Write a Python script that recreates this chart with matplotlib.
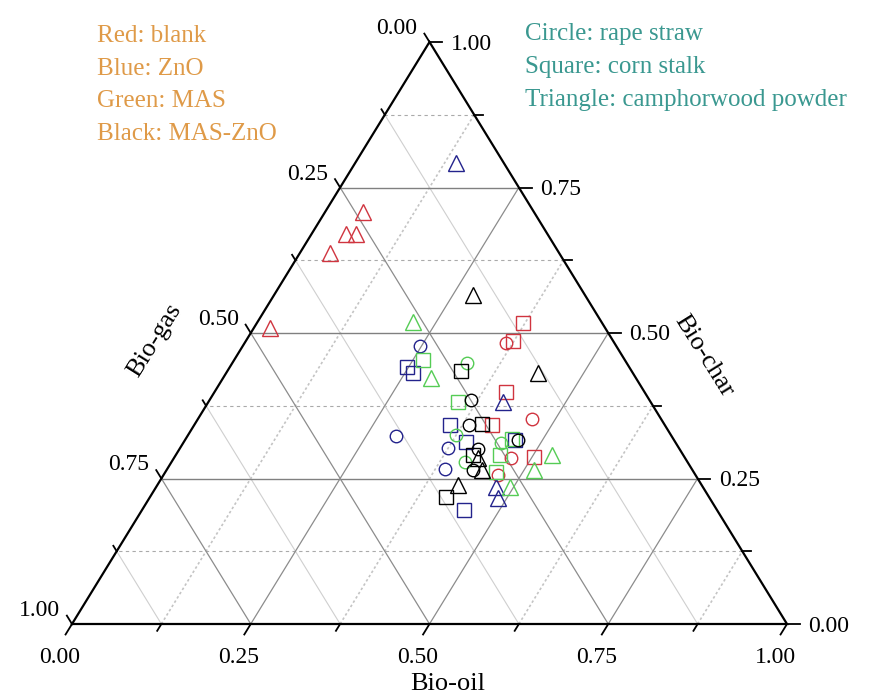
import numpy as np
import matplotlib
matplotlib.use("Agg")
import matplotlib.pyplot as plt

# ternary data, each point is (bio-oil, bio-gas, bio-char)
red_circle = [(0.365, 0.152, 0.483), (0.467, 0.181, 0.352), (0.471, 0.244, 0.285), (0.468, 0.276, 0.256)]
red_square = [(0.372, 0.111, 0.517), (0.374, 0.140, 0.486), (0.408, 0.193, 0.399), (0.416, 0.242, 0.342),
              (0.502, 0.211, 0.287)]
red_triangle = [(0.053, 0.239, 0.708), (0.048, 0.282, 0.670), (0.062, 0.268, 0.670), (0.042, 0.321, 0.637),
                (0.023, 0.468, 0.509)]

blue_circle = [(0.248, 0.274, 0.478), (0.291, 0.386, 0.323), (0.375, 0.323, 0.302), (0.389, 0.345, 0.266)]
blue_square = [(0.248, 0.310, 0.442), (0.262, 0.307, 0.431), (0.358, 0.300, 0.342), (0.395, 0.292, 0.313),
               (0.462, 0.222, 0.316), (0.450, 0.354, 0.196)]
blue_triangle = [(0.141, 0.067, 0.792), (0.412, 0.207, 0.381), (0.476, 0.289, 0.235), (0.488, 0.296, 0.216)]

green_circle = [(0.328, 0.224, 0.448), (0.374, 0.301, 0.325), (0.444, 0.245, 0.311), (0.411, 0.311, 0.278)]
green_square = [(0.264, 0.282, 0.454), (0.350, 0.269, 0.381), (0.456, 0.226, 0.318), (0.454, 0.256, 0.290),
                (0.463, 0.276, 0.261)]
green_triangle = [(0.218, 0.263, 0.519), (0.290, 0.287, 0.423), (0.526, 0.184, 0.290), (0.513, 0.222, 0.265),
                  (0.495, 0.270, 0.235)]

black_circle = [(0.365, 0.250, 0.385), (0.384, 0.274, 0.342), (0.418, 0.281, 0.301), (0.429, 0.306, 0.265),
                (0.466, 0.218, 0.316)]
black_square = [(0.326, 0.239, 0.435), (0.401, 0.255, 0.344), (0.416, 0.294, 0.290), (0.414, 0.368, 0.218)]
black_triangle = [(0.278, 0.157, 0.565), (0.436, 0.133, 0.431), (0.425, 0.290, 0.285), (0.441, 0.294, 0.265),
                  (0.421, 0.340, 0.239)]

tick_values = [0.0, 0.25, 0.5, 0.75, 1.0]
tick_labels = ["0.00", "0.25", "0.50", "0.75", "1.00"]
minor_values = [0.125, 0.375, 0.625, 0.875]

legend_colors = ["Red: blank", "Blue: ZnO", "Green: MAS", "Black: MAS-ZnO"]
legend_shapes = ["Circle: rape straw", "Square: corn stalk", "Triangle: camphorwood powder"]

plt.rcParams['font.family'] = ['Liberation Serif', 'DejaVu Serif']


def to_xy(oil, char):
    # bottom-left = gas, bottom-right = oil, top = char
    return oil + 0.5 * char, char


W, H = 883, 696
fig = plt.figure(figsize=(W / 100, H / 100), dpi=100)
ax = fig.add_axes([0, 0, 1, 1])
ax.set_xlim(-72 / 715, 811 / 715)
ax.set_ylim(-72 / 582, 624 / 582)
ax.axis('off')

# grid
for v in minor_values:
    # constant char (horizontal) - dashed
    x0, y0 = to_xy(1 - v, v)
    x1, y1 = to_xy(0, v)
    ax.plot([x0, x1], [y0, y1], color='#aaaaaa', lw=0.8, ls=(0, (3, 3)), zorder=1)
    # constant oil - dotted
    x0, y0 = to_xy(v, 0)
    x1, y1 = to_xy(v, 1 - v)
    ax.plot([x0, x1], [y0, y1], color='#c4c4c4', lw=1.2, ls=(0, (1.5, 1.5)), zorder=1)
    # constant gas - thin solid
    x0, y0 = to_xy(1 - v, 0)
    x1, y1 = to_xy(0, 1 - v)
    ax.plot([x0, x1], [y0, y1], color='#cfcfcf', lw=0.8, zorder=1)

for v in tick_values[1:-1]:
    x0, y0 = to_xy(1 - v, v)
    x1, y1 = to_xy(0, v)
    ax.plot([x0, x1], [y0, y1], color='#808080', lw=1.0, zorder=1)
    x0, y0 = to_xy(v, 0)
    x1, y1 = to_xy(v, 1 - v)
    ax.plot([x0, x1], [y0, y1], color='#8c8c8c', lw=0.9, zorder=1)
    x0, y0 = to_xy(1 - v, 0)
    x1, y1 = to_xy(0, 1 - v)
    ax.plot([x0, x1], [y0, y1], color='#8c8c8c', lw=0.9, zorder=1)

# frame
ax.plot([0, 1, 0.5, 0], [0, 0, 1, 0], color='black', lw=1.6, zorder=3, solid_joinstyle='miter')

# ticks
L = 0.018
for v in sorted(tick_values + minor_values):
    ln = L if v in tick_values else L * 0.65
    # bottom axis (bio-oil), down-left
    x, y = to_xy(v, 0)
    ax.plot([x, x - 0.5 * ln], [y, y - ln], color='black', lw=1.3, zorder=3)
    # right axis (bio-char), to the right
    x, y = to_xy(1 - v, v)
    ax.plot([x, x + ln], [y, y], color='black', lw=1.3, zorder=3)
    # left axis (bio-gas), up-left
    x, y = to_xy(0, 1 - v)
    ax.plot([x, x - 0.5 * ln * 0.8], [y, y + ln * 0.8], color='black', lw=1.3, zorder=3)

tfs = 17
for v, lab in zip(tick_values, tick_labels):
    ax.annotate(lab, to_xy(v, 0), xytext=(-12, -23), textcoords='offset pixels',
                ha='center', va='top', fontsize=tfs)
    ax.annotate(lab, to_xy(1 - v, v), xytext=(21, -2), textcoords='offset pixels',
                ha='left', va='center', fontsize=tfs)
    ax.annotate(lab, to_xy(0, 1 - v), xytext=(-12, 8), textcoords='offset pixels',
                ha='right', va='baseline', fontsize=tfs)

# axis titles
fig.text(448 / W, 1 - 684 / H, "Bio-oil", ha='center', va='center', fontsize=19)
fig.text(155 / W, 1 - 340 / H, "Bio-gas", ha='center', va='center', fontsize=19, rotation=58)
fig.text(704 / W, 1 - 356 / H, "Bio-char", ha='center', va='center', fontsize=19, rotation=-58)

# data points
groups = [
    (red_circle, 'o', '#d0343f'), (red_square, 's', '#d0343f'), (red_triangle, '^', '#d0343f'),
    (blue_circle, 'o', '#23238c'), (blue_square, 's', '#23238c'), (blue_triangle, '^', '#23238c'),
    (green_circle, 'o', '#55cc55'), (green_square, 's', '#55cc55'), (green_triangle, '^', '#55cc55'),
    (black_circle, 'o', 'black'), (black_square, 's', 'black'), (black_triangle, '^', 'black'),
]
sizes = {'o': 9.0, 's': 9.5, '^': 11.0}
for pts, mk, col in groups:
    arr = np.array(pts)
    x, y = to_xy(arr[:, 0], arr[:, 2])
    ax.plot(x, y, ls='none', marker=mk, ms=sizes[mk], mfc='none', mec=col, mew=1.0, zorder=4)

# annotation texts
for i, t in enumerate(legend_colors):
    fig.text(97 / W, 1 - (36 + 32.7 * i) / H, t, ha='left', va='center', fontsize=18, color='#df9a48')
for i, t in enumerate(legend_shapes):
    fig.text(525 / W, 1 - (34 + 33 * i) / H, t, ha='left', va='center', fontsize=18, color='#3a9890')

fig.savefig("out.png", dpi=100)
